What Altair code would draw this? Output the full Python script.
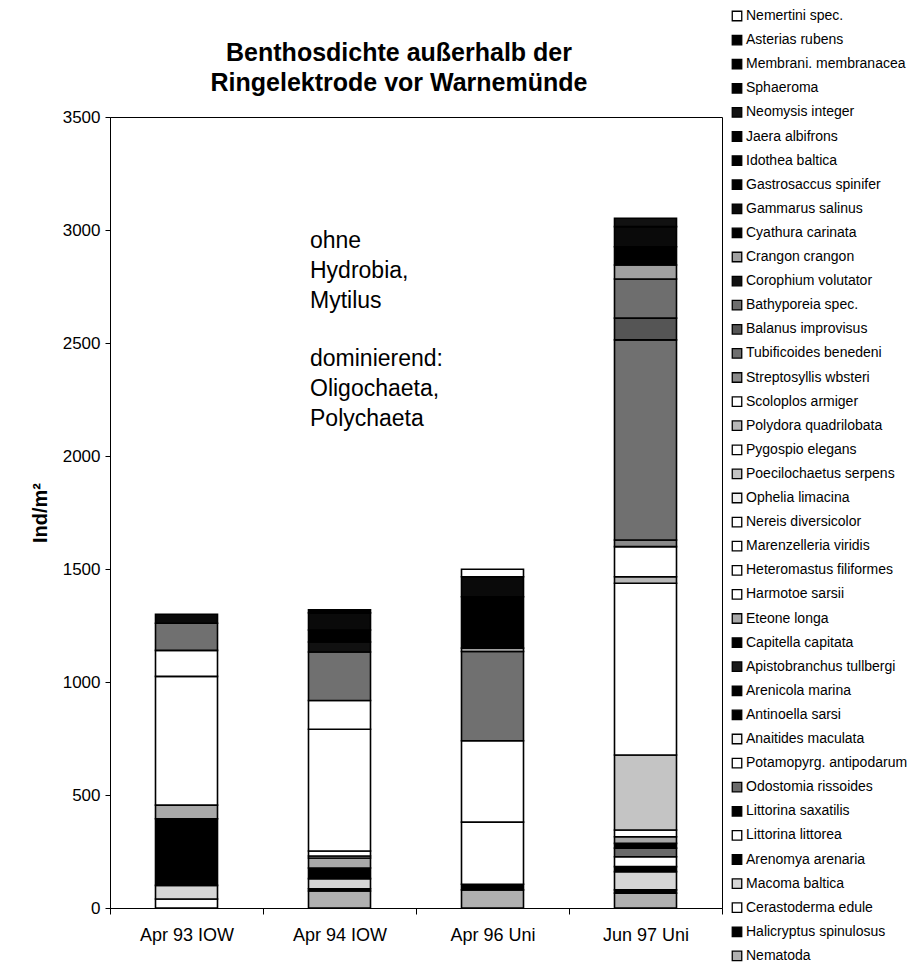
import altair as alt
import pandas as pd

categories = ["Apr 93 IOW", "Apr 94 IOW", "Apr 96 Uni", "Jun 97 Uni"]

# stack order: bottom -> top
species = [
    "Nematoda", "Halicryptus spinulosus", "Cerastoderma edule", "Macoma baltica",
    "Arenomya arenaria", "Littorina littorea", "Littorina saxatilis", "Odostomia rissoides",
    "Potamopyrg. antipodarum", "Anaitides maculata", "Antinoella sarsi", "Arenicola marina",
    "Apistobranchus tullbergi", "Capitella capitata", "Eteone longa", "Harmotoe sarsii",
    "Heteromastus filiformes", "Marenzelleria viridis", "Nereis diversicolor", "Ophelia limacina",
    "Poecilochaetus serpens", "Pygospio elegans", "Polydora quadrilobata", "Scoloplos armiger",
    "Streptosyllis wbsteri", "Tubificoides benedeni", "Balanus improvisus", "Bathyporeia spec.",
    "Corophium volutator", "Crangon crangon", "Cyathura carinata", "Gammarus salinus",
    "Gastrosaccus spinifer", "Idothea baltica", "Jaera albifrons", "Neomysis integer",
    "Sphaeroma", "Membrani. membranacea", "Asterias rubens", "Nemertini spec.",
]

fills = [
    "#b0b0b0", "#000000", "#ffffff", "#d6d6d6",
    "#000000", "#ffffff", "#000000", "#6a6a6a",
    "#ffffff", "#f2f2f2", "#000000", "#000000",
    "#1a1a1a", "#000000", "#a8a8a8", "#ffffff",
    "#ffffff", "#ffffff", "#ffffff", "#eeeeee",
    "#c4c4c4", "#ffffff", "#b8b8b8", "#ffffff",
    "#8a8a8a", "#707070", "#555555", "#6e6e6e",
    "#111111", "#a0a0a0", "#000000", "#0a0a0a",
    "#000000", "#000000", "#000000", "#111111",
    "#000000", "#000000", "#000000", "#ffffff",
]

apr93 = [0, 0, 40, 60, 0, 0, 0, 0, 0, 0, 0, 0, 0, 295, 60, 0, 0, 0, 0, 0,
         0, 570, 0, 115, 0, 120, 0, 0, 0, 0, 0, 40, 0, 0, 0, 0, 0, 0, 0, 0]
apr94 = [75, 10, 0, 45, 47, 0, 0, 0, 0, 0, 0, 0, 0, 0, 44, 9, 22, 0, 0, 0,
         0, 539, 0, 127, 0, 215, 0, 0, 44, 0, 53, 76, 0, 0, 14, 0, 0, 0, 0, 0]
apr96 = [80, 25, 0, 0, 0, 0, 0, 0, 0, 0, 0, 0, 0, 0, 0, 0, 0, 0, 0, 0,
         0, 275, 0, 360, 0, 395, 0, 0, 0, 15, 227, 89, 0, 0, 0, 0, 0, 0, 0, 33]
jun97 = [66, 14, 0, 81, 22, 44, 0, 38, 0, 0, 21, 0, 0, 0, 29, 30, 0, 0, 0, 0,
         332, 760, 29, 133, 29, 886, 96, 173, 0, 62, 81, 89, 0, 0, 0, 37, 0, 0, 0, 0]

y_ticks = [0, 500, 1000, 1500, 2000, 2500, 3000, 3500]

title_text = "Benthosdichte außerhalb der\nRingelektrode vor Warnemünde"
note_top = "ohne\nHydrobia,\nMytilus"
note_bottom = "dominierend:\nOligochaeta,\nPolychaeta"

rows = []
for cat, vals in zip(categories, [apr93, apr94, apr96, jun97]):
    for i, (sp, v) in enumerate(zip(species, vals)):
        if v > 0:
            rows.append({"cat": cat, "species": sp, "value": v, "order": i})
df = pd.DataFrame(rows)

legend_domain = species[::-1]
legend_range = fills[::-1]

FONT = "Liberation Sans"

bars = alt.Chart(df).mark_bar(size=62, stroke="black", strokeWidth=1.6).encode(
    x=alt.X("cat:N", sort=categories,
            scale=alt.Scale(paddingInner=0, paddingOuter=0),
            axis=alt.Axis(title=None, labelAngle=0, tickBand="extent", tickSize=6,
                          labelPadding=12, labelFontSize=18)),
    y=alt.Y("value:Q", stack="zero",
            scale=alt.Scale(domain=[0, 3500], nice=False),
            axis=alt.Axis(values=y_ticks, format="d", grid=False, title="Ind/m²", tickSize=5,
                          labelPadding=5, labelFontSize=17, titleFontSize=20,
                          titleFontWeight="bold", titlePadding=12)),
    color=alt.Color("species:N", title=None,
                    scale=alt.Scale(domain=legend_domain, range=legend_range),
                    legend=alt.Legend(orient="none", legendX=620, legendY=-108,
                                      symbolType="square", symbolSize=90,
                                      symbolStrokeColor="black", symbolStrokeWidth=1.3,
                                      labelFontSize=14, labelFont=FONT, labelColor="black",
                                      rowPadding=8.1, labelOffset=2, padding=0,
                                      labelLimit=220, symbolLimit=60)),
    order=alt.Order("order:Q", sort="ascending"),
)

text_top = alt.Chart(pd.DataFrame({"t": [note_top]})).mark_text(
    align="left", baseline="top", fontSize=23, lineHeight=30, font=FONT,
    lineBreak="\n", color="black"
).encode(x=alt.value(200), y=alt.value(113), text="t:N")

text_bottom = alt.Chart(pd.DataFrame({"t": [note_bottom]})).mark_text(
    align="left", baseline="top", fontSize=23, lineHeight=30, font=FONT,
    lineBreak="\n", color="black"
).encode(x=alt.value(200), y=alt.value(231), text="t:N")

title = alt.Chart(pd.DataFrame({"t": [title_text]})).mark_text(
    align="center", baseline="alphabetic", fontSize=25, fontWeight="bold",
    lineHeight=30, font=FONT, lineBreak="\n", color="black"
).encode(x=alt.value(289), y=alt.value(-56), text="t:N")

chart = alt.layer(bars, text_top, text_bottom, title).properties(
    width=612, height=791,
    autosize="none",
    padding={"left": 102, "top": 109, "right": 194, "bottom": 55},
).configure_view(stroke="black", strokeWidth=1).configure_axis(
    labelFont=FONT, titleFont=FONT, labelColor="black", titleColor="black",
    domainColor="black", tickColor="black"
)

chart.save("out.html", embed_options={"renderer": "svg", "actions": False})
